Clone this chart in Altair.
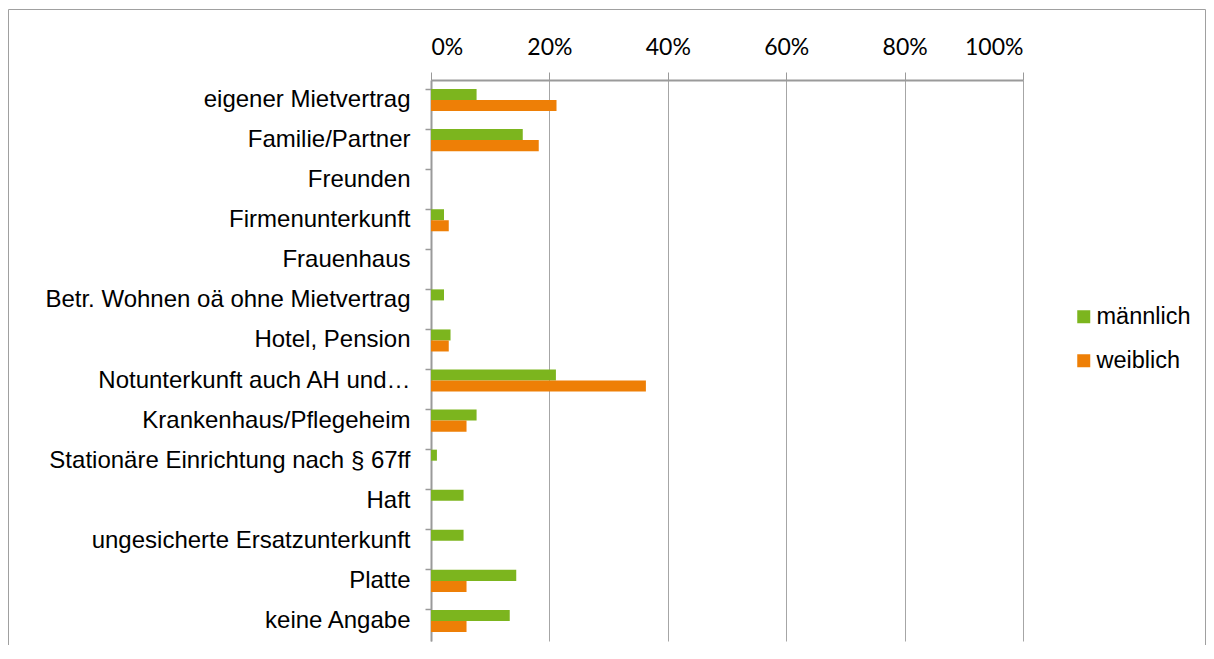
import altair as alt
import pandas as pd

categories = [
    "eigener Mietvertrag",
    "Familie/Partner",
    "Freunden",
    "Firmenunterkunft",
    "Frauenhaus",
    "Betr. Wohnen oä ohne Mietvertrag",
    "Hotel, Pension",
    "Notunterkunft auch AH und…",
    "Krankenhaus/Pflegeheim",
    "Stationäre Einrichtung nach § 67ff",
    "Haft",
    "ungesicherte Ersatzunterkunft",
    "Platte",
    "keine Angabe",
]
maennlich = [7.7, 15.5, 0, 2.2, 0, 2.2, 3.3, 21.1, 7.7, 1.0, 5.5, 5.5, 14.4, 13.3]
weiblich = [21.2, 18.2, 0, 3.0, 0, 0, 3.0, 36.3, 6.0, 0, 0, 0, 6.0, 6.0]
series = ["männlich", "weiblich"]
colors = ["#7CB51E", "#EE7F06"]
tick_values = [0, 0.2, 0.4, 0.6, 0.8, 1.0]

rows = []
for c, m, w in zip(categories, maennlich, weiblich):
    rows.append({"cat": c, "sex": series[0], "value": m / 100})
    rows.append({"cat": c, "sex": series[1], "value": w / 100})
df = pd.DataFrame(rows)

W, H = 592, 561
PL, PT = 423, 72
SVG_W = 1198
GRAY = "#A6A6A6"
AXIS_GRAY = "#9A9A9A"
FONT = "Liberation Sans"

bars = alt.Chart(df).mark_bar().encode(
    x=alt.X(
        "value:Q",
        scale=alt.Scale(domain=[0, 1], nice=False),
        axis=alt.Axis(
            orient="top", values=tick_values, format="%", grid=True,
            domain=True, ticks=True, domainWidth=2, tickWidth=1,
            gridColor=GRAY, domainColor=AXIS_GRAY, tickColor=AXIS_GRAY, tickSize=8,
            labelFont="Lato", labelFontSize=23, labelColor="#000000",
            labelPadding=13, title=None,
        ),
    ),
    y=alt.Y(
        "cat:N", sort=categories,
        scale=alt.Scale(paddingInner=0.45, paddingOuter=0.225),
        axis=alt.Axis(
            title=None, bandPosition=0, tickSize=6, labelPadding=15,
            domain=True, ticks=True, domainWidth=2, tickWidth=1.5,
            labelFont=FONT, labelFontSize=24, labelColor="#000000",
            labelLimit=430, domainColor=AXIS_GRAY, tickColor=AXIS_GRAY, grid=False,
        ),
    ),
    yOffset=alt.YOffset("sex:N", sort=series),
    color=alt.Color(
        "sex:N",
        scale=alt.Scale(domain=series, range=colors),
        legend=alt.Legend(
            title=None, orient="none", legendX=641, legendY=225,
            symbolType="square", symbolSize=169, symbolStrokeWidth=0,
            labelFont=FONT, labelFontSize=23.5, labelColor="#000000",
            rowPadding=19, labelOffset=1, padding=0,
        ),
    ),
)

frame = alt.Chart(alt.Data(values=[{}])).mark_rect(
    fillOpacity=0, stroke="#A0A0A0", strokeWidth=1, clip=False
).encode(
    x=alt.value(-PL + 0.5), x2=alt.value(SVG_W - 0.5 - PL),
    y=alt.value(-PT + 1.5), y2=alt.value(H + 40),
)

chart = alt.layer(bars, frame).properties(
    width=W, height=H,
    padding={"left": PL, "top": PT, "right": SVG_W - PL - W, "bottom": 4},
    autosize=alt.AutoSizeParams(type="none"),
).configure_view(stroke=None)

chart.save("out.html", embed_options={"renderer": "svg", "actions": False})
